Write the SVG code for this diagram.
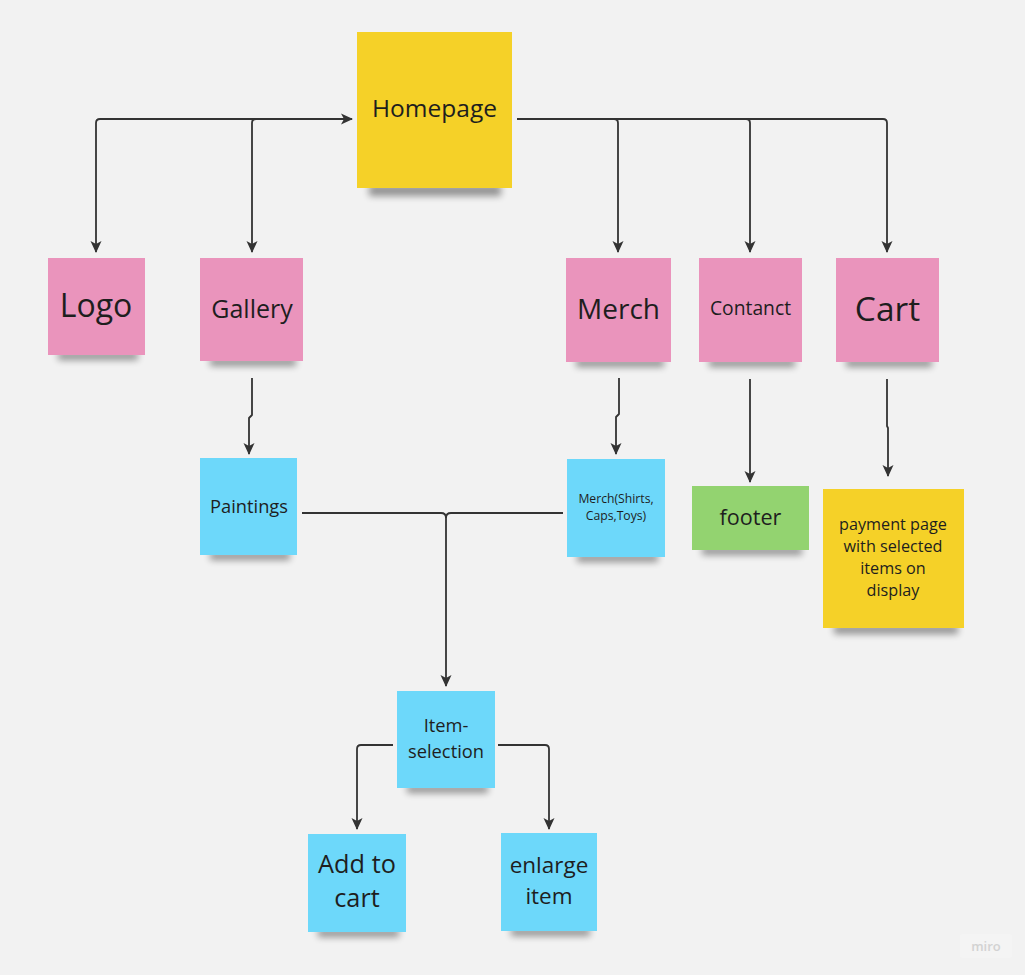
<svg xmlns="http://www.w3.org/2000/svg" width="1025" height="975" viewBox="0 0 1025 975">
<defs>
<style>
.t{font-family:"Open Sans","Noto Sans","Liberation Sans",sans-serif;fill:#1e1e1e;text-anchor:middle}
.c{fill:none;stroke:#333;stroke-width:1.8;stroke-linejoin:round}
.pink{fill:#ea94bc}
.yel{fill:#f5d128}
.blue{fill:#6dd8fa}
.grn{fill:#93d370}
.sh{fill:#000;opacity:0.4;filter:url(#blur)}
</style>
<filter id="blur" x="-20%" y="-200%" width="140%" height="500%"><feGaussianBlur stdDeviation="3.5"/></filter>
<marker id="ah" viewBox="0 0 12 12" refX="11" refY="6" markerWidth="12" markerHeight="12" markerUnits="userSpaceOnUse" orient="auto-start-reverse">
<path d="M0,0.5 L12,6 L0,11.5 L3,6 z" fill="#333"/>
</marker>
</defs>
<rect width="1025" height="975" fill="#f2f2f2"/>

<g id="connectors">
<path class="c" d="M352,119 H100 Q96,119 96,123 V252" marker-start="url(#ah)" marker-end="url(#ah)"/>
<path class="c" d="M352,119 H256 Q252,119 252,123 V252" marker-end="url(#ah)"/>
<path class="c" d="M517,119 H883 Q887,119 887,123 V252" marker-end="url(#ah)"/>
<path class="c" d="M614,119 Q618,119 618,123 V252" marker-end="url(#ah)"/>
<path class="c" d="M746,119 Q750,119 750,123 V252" marker-end="url(#ah)"/>
<path class="c" d="M252,378 V415 L249,418 V454" marker-end="url(#ah)"/>
<path class="c" d="M619,378 V414 L616,417 V454" marker-end="url(#ah)"/>
<path class="c" d="M750,379 V482" marker-end="url(#ah)"/>
<path class="c" d="M887,379 V426 L888,428 V476" marker-end="url(#ah)"/>
<path class="c" d="M302,513 H441 Q446,513 446,518 V686" marker-end="url(#ah)"/>
<path class="c" d="M563,513 H451 Q446,513 446,518"/>
<path class="c" d="M393,745 H361 Q357,745 357,749 V829" marker-end="url(#ah)"/>
<path class="c" d="M498,745 H545 Q549,745 549,749 V829" marker-end="url(#ah)"/>
</g>

<g id="homepage">
<rect class="sh" x="369" y="185" width="132" height="11"/>
<rect class="yel" x="357" y="32" width="155" height="156"/>
<text class="t" x="434.5" y="116.5" font-size="24.5">Homepage</text>
</g>

<g id="logo">
<rect class="sh" x="58" y="352" width="80" height="8"/>
<rect class="pink" x="48" y="258" width="97" height="97"/>
<text class="t" x="96" y="316.5" font-size="32">Logo</text>
</g>

<g id="gallery">
<rect class="sh" x="210" y="358" width="86" height="8"/>
<rect class="pink" x="200" y="258" width="103" height="103"/>
<text class="t" x="252" y="318" font-size="25">Gallery</text>
</g>

<g id="merch">
<rect class="sh" x="576" y="359" width="88" height="8"/>
<rect class="pink" x="566" y="258" width="105" height="104"/>
<text class="t" x="618.5" y="319" font-size="28">Merch</text>
</g>

<g id="contanct">
<rect class="sh" x="709" y="359" width="86" height="8"/>
<rect class="pink" x="699" y="258" width="103" height="104"/>
<text class="t" x="750.5" y="315" font-size="19.3">Contanct</text>
</g>

<g id="cart">
<rect class="sh" x="846" y="359" width="86" height="8"/>
<rect class="pink" x="836" y="258" width="103" height="104"/>
<text class="t" x="887.5" y="320.5" font-size="33.5">Cart</text>
</g>

<g id="paintings">
<rect class="sh" x="210" y="552" width="80" height="8"/>
<rect class="blue" x="200" y="458" width="97" height="97"/>
<text class="t" x="249" y="513" font-size="18.3">Paintings</text>
</g>

<g id="merch-items">
<rect class="sh" x="577" y="554" width="81" height="8"/>
<rect class="blue" x="567" y="459" width="98" height="98"/>
<text class="t" x="616" y="503" font-size="12.2">Merch(Shirts,</text>
<text class="t" x="616" y="520" font-size="12.2">Caps,Toys)</text>
</g>

<g id="footer">
<rect class="sh" x="702" y="547" width="100" height="8"/>
<rect class="grn" x="692" y="486" width="117" height="64"/>
<text class="t" x="750.5" y="525" font-size="21.6">footer</text>
</g>

<g id="payment">
<rect class="sh" x="834" y="625" width="124" height="9"/>
<rect class="yel" x="823" y="489" width="141" height="139"/>
<text class="t" x="893" y="530" font-size="16.2">payment page</text>
<text class="t" x="893" y="552" font-size="16.2">with selected</text>
<text class="t" x="893" y="574" font-size="16.2">items on</text>
<text class="t" x="893" y="596" font-size="16.2">display</text>
</g>

<g id="item-selection">
<rect class="sh" x="407" y="785" width="81" height="8"/>
<rect class="blue" x="397" y="691" width="98" height="97"/>
<text class="t" x="446" y="732" font-size="18.3">Item-</text>
<text class="t" x="446" y="757.5" font-size="18.3">selection</text>
</g>

<g id="add-to-cart">
<rect class="sh" x="318" y="929" width="81" height="8"/>
<rect class="blue" x="308" y="834" width="98" height="98"/>
<text class="t" x="357" y="872.5" font-size="25.3">Add to</text>
<text class="t" x="357" y="907" font-size="25.3">cart</text>
</g>

<g id="enlarge-item">
<rect class="sh" x="511" y="928" width="79" height="8"/>
<rect class="blue" x="501" y="833" width="96" height="98"/>
<text class="t" x="549" y="873" font-size="22.5">enlarge</text>
<text class="t" x="549" y="904" font-size="22.5">item</text>
</g>

<g id="watermark">
<rect x="960" y="934" width="52" height="24" rx="3" fill="#f4f4f4"/>
<text x="986" y="951" font-family="'Open Sans','Noto Sans',sans-serif" font-size="13" font-weight="600" fill="#d2d2d2" text-anchor="middle">miro</text>
</g>
</svg>
